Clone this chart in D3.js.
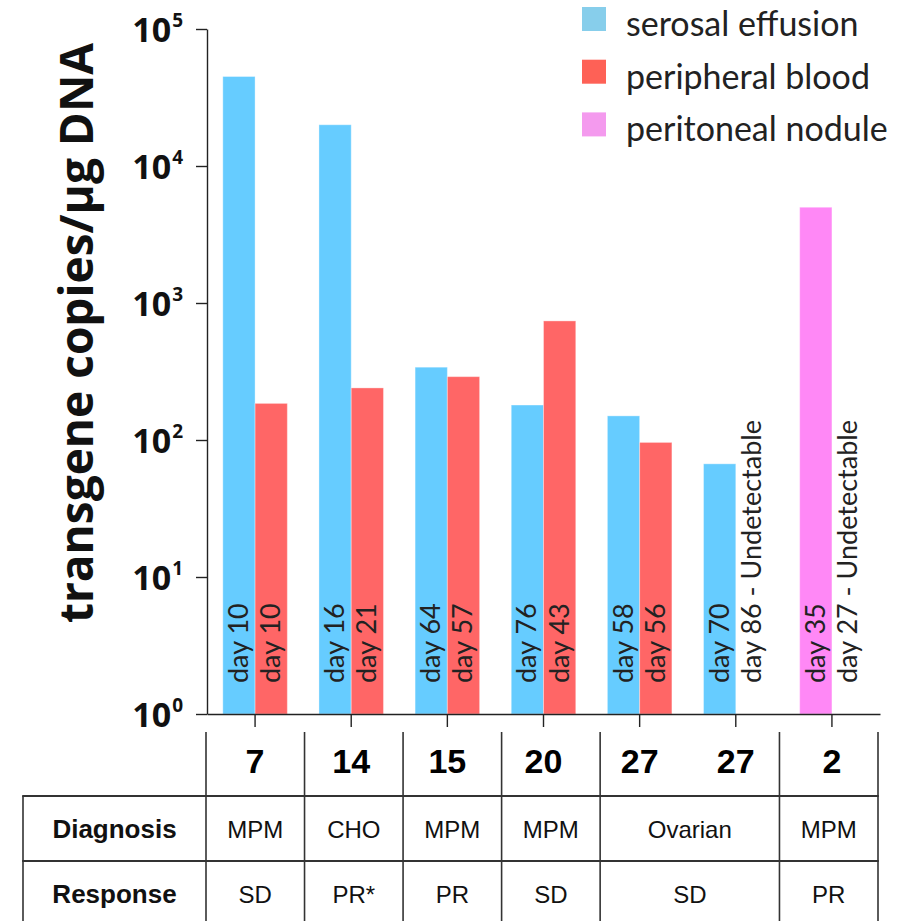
<!DOCTYPE html>
<html>
<head>
<meta charset="utf-8">
<script src="https://cdn.jsdelivr.net/npm/d3@7"></script>
<style>
    body { margin: 0; background: #fff; }
    svg { display: block; }
</style>
</head>
<body>
<div id="chart"></div>
<script>
// patient numbers (one group of bars each)
const patients = ["7", "14", "15", "20", "27", "27", "2"];
const serosal = [45000, 20000, 340, 180, 150, 67, null];
const blood = [185, 240, 290, 740, 96, null, null];
const nodule = [null, null, null, null, null, null, 5000];
// day labels for first and second bar of each group
const daysFirst = ["day 10", "day 16", "day 64", "day 76", "day 58", "day 70", "day 35"];
const daysSecond = ["day 10", "day 21", "day 57", "day 43", "day 56", "day 86 - Undetectable", "day 27 - Undetectable"];
const yTicks = [1, 10, 100, 1000, 10000, 100000];
const legendLabels = ["serosal effusion", "peripheral blood", "peritoneal nodule"];
// table below the chart
const diagnosis = ["MPM", "CHO", "MPM", "MPM", "Ovarian", "MPM"];
const response = ["SD", "PR*", "PR", "SD", "SD", "PR"];
const cellSpan = [1, 1, 1, 1, 1.82, 1];

const barColors = {serosal: "#66ccff", blood: "#ff6666", nodule: "#ff88f6"};
const legendColors = ["#87ceeb", "#fe6156", "#f49aee"];

let width = 912, height = 921;
let margin = {top: 29, left: 207, right: 32, bottom: 207};

let svg = d3.select("#chart").append("svg")
    .attr("width", width)
    .attr("height", height);

// scales
let x0 = d3.scaleBand()
    .domain(d3.range(patients.length))
    .range([margin.left, width - margin.right])
    .paddingInner(0.329)
    .paddingOuter(0.1645);

let x1 = d3.scaleBand()
    .domain([0, 1])
    .range([0, x0.bandwidth()]);

let y = d3.scaleLog()
    .domain([1, 1e5])
    .range([height - margin.bottom, margin.top]);

// bar records
let bars = [];
patients.forEach((p, i) => {
    if (serosal[i] != null) bars.push({g: i, slot: 0, value: serosal[i], color: barColors.serosal});
    if (nodule[i] != null) bars.push({g: i, slot: 0, value: nodule[i], color: barColors.nodule});
    if (blood[i] != null) bars.push({g: i, slot: 1, value: blood[i], color: barColors.blood});
});

svg.append("g").selectAll(".bar")
    .data(bars)
    .enter()
    .append("rect")
    .attr("class", "bar")
    .attr("x", d => x0(d.g) + x1(d.slot))
    .attr("width", x1.bandwidth())
    .attr("y", d => y(d.value))
    .attr("height", d => y(1) - y(d.value))
    .attr("fill", d => d.color)
    .attr("stroke", "#fff")
    .attr("stroke-opacity", 0.35)
    .attr("stroke-width", 1);

// day labels, rotated
let dayLabels = [];
patients.forEach((p, i) => {
    dayLabels.push({g: i, slot: 0, text: daysFirst[i]});
    dayLabels.push({g: i, slot: 1, text: daysSecond[i]});
});

svg.append("g").selectAll(".day")
    .data(dayLabels)
    .enter()
    .append("text")
    .attr("class", "day")
    .attr("transform", d => `translate(${x0(d.g) + x1(d.slot) + x1.bandwidth() / 2 + 9}, ${y(1) - 31}) rotate(-90)`)
    .attr("font-family", "Lato, sans-serif")
    .attr("font-size", 27)
    .attr("fill", "#222")
    .text(d => d.text);

// y axis
let yAxis = d3.axisLeft(y)
    .tickValues(yTicks)
    .tickFormat("")
    .tickSize(11)
    .tickSizeOuter(0);

let yAxisG = svg.append("g")
    .attr("transform", `translate(${margin.left}, 0)`)
    .call(yAxis);
yAxisG.selectAll("path, line").attr("stroke", "#222").attr("stroke-width", 1.4);

let yLabels = svg.append("g").selectAll(".ylab")
    .data(yTicks)
    .enter()
    .append("text")
    .attr("class", "ylab")
    .attr("x", 183)
    .attr("y", d => y(d) + 13)
    .attr("text-anchor", "end")
    .attr("font-family", "'Open Sans', sans-serif")
    .attr("font-weight", 700)
    .attr("fill", "#111");
yLabels.append("tspan").attr("font-size", 34).text("10");
yLabels.append("tspan").attr("font-size", 19).attr("dy", -15).attr("dx", 1).text(d => Math.round(Math.log10(d)));

// y title
svg.append("text")
    .attr("transform", `translate(93, 333) rotate(-90)`)
    .attr("text-anchor", "middle")
    .attr("font-family", "'Open Sans', sans-serif")
    .attr("font-weight", 700)
    .attr("font-size", 46)
    .attr("fill", "#111")
    .text("transgene copies/µg DNA");

// x axis with group ticks
let xAxis = d3.axisBottom(x0)
    .tickFormat("")
    .tickSize(13)
    .tickSizeOuter(0);

let xAxisG = svg.append("g")
    .attr("transform", `translate(0, ${y(1)})`)
    .call(xAxis);
xAxisG.selectAll("path, line").attr("stroke", "#222").attr("stroke-width", 1.4);

// legend
let legend = svg.append("g")
    .attr("transform", "translate(582, 7)");

legend.selectAll("rect")
    .data(legendLabels)
    .enter()
    .append("rect")
    .attr("x", 0)
    .attr("y", (d, i) => i * 52.7)
    .attr("width", 24)
    .attr("height", 24)
    .attr("fill", (d, i) => legendColors[i]);

legend.selectAll("text")
    .data(legendLabels)
    .enter()
    .append("text")
    .attr("x", 44)
    .attr("y", (d, i) => i * 52.7 + 29)
    .attr("font-family", "Lato, sans-serif")
    .attr("font-size", 34)
    .attr("fill", "#222")
    .text(d => d);

// table
let tableTop = 732, row1 = 796, row2 = 861, tableBottom = 925;
let tableLeft = 23, tableRight = 878;
let tableFont = "'Liberation Sans', Arial, sans-serif";
let lineColor = "#333";

let spanScale = d3.scaleLinear()
    .domain([0, d3.sum(cellSpan)])
    .range([206, tableRight]);
let bounds = [0];
cellSpan.forEach(s => bounds.push(bounds[bounds.length - 1] + s));

let table = svg.append("g");

// vertical lines
table.selectAll(".vline")
    .data(bounds)
    .enter()
    .append("line")
    .attr("x1", d => spanScale(d))
    .attr("x2", d => spanScale(d))
    .attr("y1", tableTop)
    .attr("y2", tableBottom)
    .attr("stroke", lineColor)
    .attr("stroke-width", 1.6);

table.append("line")
    .attr("x1", tableLeft).attr("x2", tableLeft)
    .attr("y1", row1).attr("y2", tableBottom)
    .attr("stroke", lineColor).attr("stroke-width", 1.6);

table.selectAll(".hline")
    .data([row1, row2])
    .enter()
    .append("line")
    .attr("x1", tableLeft - 0.8)
    .attr("x2", tableRight + 0.8)
    .attr("y1", d => d)
    .attr("y2", d => d)
    .attr("stroke", lineColor)
    .attr("stroke-width", 2);

// patient numbers under each group
table.selectAll(".pnum")
    .data(patients)
    .enter()
    .append("text")
    .attr("x", (d, i) => x0(i) + x0.bandwidth() / 2)
    .attr("y", 773)
    .attr("text-anchor", "middle")
    .attr("font-family", tableFont)
    .attr("font-weight", 700)
    .attr("font-size", 34)
    .attr("fill", "#000")
    .text(d => d);

// row headers
table.selectAll(".rowhead")
    .data(["Diagnosis", "Response"])
    .enter()
    .append("text")
    .attr("x", (tableLeft + 206) / 2)
    .attr("y", (d, i) => i === 0 ? 838 : 903)
    .attr("text-anchor", "middle")
    .attr("font-family", tableFont)
    .attr("font-weight", 700)
    .attr("font-size", 26)
    .attr("fill", "#111")
    .text(d => d);

[diagnosis, response].forEach((row, r) => {
    table.selectAll(".cell" + r)
        .data(row)
        .enter()
        .append("text")
        .attr("x", (d, i) => (spanScale(bounds[i]) + spanScale(bounds[i + 1])) / 2)
        .attr("y", r === 0 ? 838 : 903)
        .attr("text-anchor", "middle")
        .attr("font-family", tableFont)
        .attr("font-size", 24)
        .attr("fill", "#111")
        .text(d => d);
});
</script>
</body>
</html>
